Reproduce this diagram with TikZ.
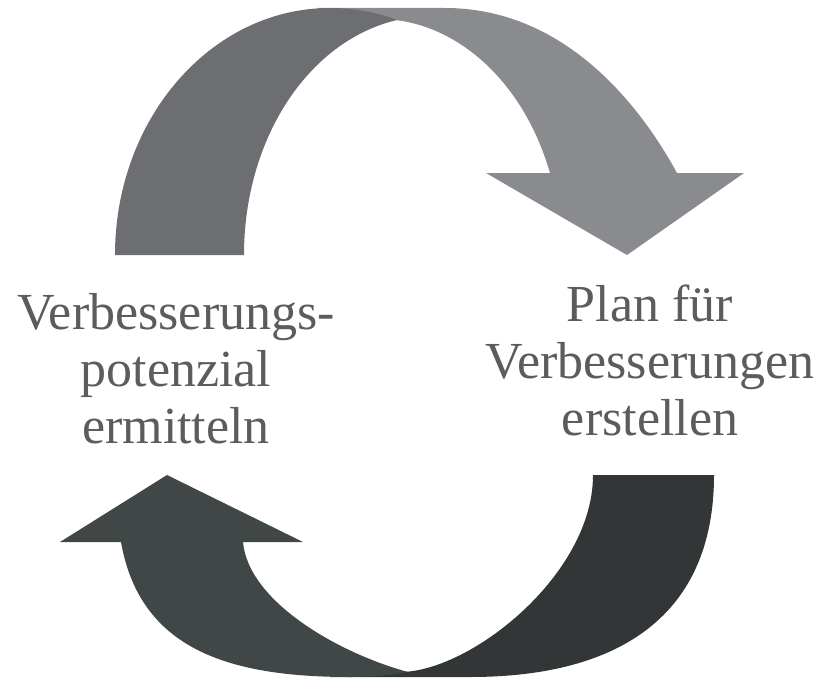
\documentclass[tikz,border=0pt]{standalone}
\usepackage{fontspec}
\setmainfont{Liberation Serif}

\definecolor{topdark}{HTML}{6D6E72}
\definecolor{toplight}{HTML}{8A8B8F}
\definecolor{botleft}{HTML}{414647}
\definecolor{botright}{HTML}{333637}
\definecolor{lblgray}{HTML}{5C5C5C}

\begin{document}
\begin{tikzpicture}[x=1pt, y=-1pt,
                    lbl/.style={font=\fontsize{52}{57}\selectfont, text=lblgray,
                                align=center, inner sep=0pt}]

% canvas, with the bottom arrow running off the lower edge
\useasboundingbox (0,0) rectangle (826,679);
\clip (0,0) rectangle (826,679);

% ---- upper arrow: tail band left, head pointing down on the right ----
% head band first, its left end hides under the tail band
\fill[toplight] (318,8) -- (445,8) .. controls (560,8) and (636,98) .. (677,173)
      -- (744,173) -- (627,255) -- (486,173) -- (550,173)
      .. controls (515,52) and (411,-11) .. (317,33) -- cycle;
% tail band, ends in a point where its edges cross
\fill[topdark] (115,255) .. controls (115,119) and (211,8) .. (330,8)
      .. controls (353,8) and (376,12) .. (397,20)
      .. controls (308,41) and (244,139) .. (244,255) -- cycle;

% ---- lower arrow: tail band right, head pointing up on the left ----
\fill[botright] (593,475) -- (714,475) .. controls (714,615) and (620,677) .. (470,677)
      -- (330,677) -- (330,665) -- (400,672)
      .. controls (470,672) and (593,575) .. (593,475) -- cycle;
\fill[botleft] (60,542) -- (167,475) -- (303,542) -- (243,542)
      .. controls (248,600) and (335,652) .. (408,672)
      .. controls (392,675) and (375,677) .. (350,677)
      .. controls (230,677) and (140,650) .. (121,542) -- cycle;

% ---- labels (base = baseline of the last line) ----
\node[lbl, anchor=base] (potenzial) at (176,443) {Verbesserungs-\\potenzial\\ermitteln};
\node[lbl, anchor=base] (plan) at (650,435) {Plan für\\Verbesserungen\\erstellen};

\end{tikzpicture}
\end{document}
